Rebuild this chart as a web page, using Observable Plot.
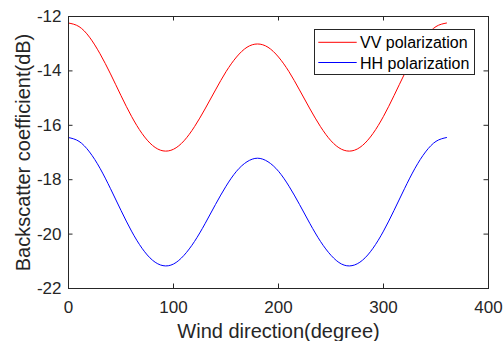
<!DOCTYPE html>
<html><head><meta charset="utf-8">
<script src="https://cdn.jsdelivr.net/npm/d3@7"></script>
<script src="https://cdn.jsdelivr.net/npm/@observablehq/plot@0.6"></script>
<style>
html,body{margin:0;padding:0;background:#fff;}
#wrap{position:relative;width:504px;height:341px;overflow:hidden;font-family:"Liberation Sans",Arial,sans-serif;}
#legend{position:absolute;left:314px;top:29px;}
</style>
</head><body>
<div id="wrap"></div>
<script>
// Data
const angles = [0,10,20,30,40,50,60,70,80,90,100,110,120,130,140,150,160,170,180,190,200,210,220,230,240,250,260,270,280,290,300,310,320,330,340,350,360];
const vv = [-12.24,-12.37,-12.76,-13.37,-14.11,-14.91,-15.67,-16.30,-16.74,-16.94,-16.88,-16.57,-16.05,-15.40,-14.70,-14.03,-13.49,-13.13,-13.01,-13.13,-13.49,-14.03,-14.70,-15.40,-16.05,-16.57,-16.88,-16.94,-16.74,-16.30,-15.67,-14.91,-14.11,-13.37,-12.76,-12.37,-12.24];
const hh = [-16.45,-16.59,-16.98,-17.58,-18.33,-19.13,-19.89,-20.52,-20.96,-21.16,-21.10,-20.78,-20.27,-19.62,-18.91,-18.24,-17.69,-17.34,-17.21,-17.34,-17.69,-18.24,-18.91,-19.62,-20.27,-20.78,-21.10,-21.16,-20.96,-20.52,-19.89,-19.13,-18.33,-17.58,-16.98,-16.59,-16.45];
const seriesNames = ["VV polarization","HH polarization"];
const seriesColors = ["#ff0000","#0000ff"];
const xTicks = [0,100,200,300,400];
const yTicks = [-22,-20,-18,-16,-14,-12];
const xLabel = "Wind direction(degree)";
const yLabel = "Backscatter coefficient(dB)";

const rows = [];
angles.forEach((a,i)=>{ rows.push({angle:a, value:vv[i], series:seriesNames[0]}); });
angles.forEach((a,i)=>{ rows.push({angle:a, value:hh[i], series:seriesNames[1]}); });

const W=504,H=341,mL=68,mR=16,mT=16,mB=53;
const fw=W-mL-mR, fh=H-mT-mB, tl=4.5;
const axisColor="#262626";
const font='"Liberation Sans",Arial,sans-serif';

const chart = Plot.plot({
  width:W, height:H, marginLeft:mL, marginRight:mR, marginTop:mT, marginBottom:mB,
  style:{fontFamily:font, fontSize:"17px", background:"#fff"},
  x:{domain:[0,400]},
  y:{domain:[-22,-12]},
  color:{domain:seriesNames, range:seriesColors},
  marks:[
    Plot.line(rows,{x:"angle", y:"value", stroke:"series", strokeWidth:1, curve:"natural"}),
    Plot.ruleX(xTicks.slice(1,-1),{x:d=>d, insetTop:fh-tl, stroke:axisColor}),
    Plot.ruleX(xTicks.slice(1,-1),{x:d=>d, insetBottom:fh-tl, stroke:axisColor}),
    Plot.ruleY(yTicks.slice(1,-1),{y:d=>d, insetRight:fw-tl, stroke:axisColor}),
    Plot.ruleY(yTicks.slice(1,-1),{y:d=>d, insetLeft:fw-tl, stroke:axisColor}),
    Plot.frame({stroke:axisColor, strokeWidth:1}),
    Plot.axisX(xTicks,{tickSize:0, tickPadding:12, fontSize:17, fill:axisColor, label:null, tickFormat:d=>String(d)}),
    Plot.axisY(yTicks,{tickSize:0, tickPadding:7, fontSize:17, fill:axisColor, label:null, tickFormat:d=>String(d)}),
    Plot.text([xLabel],{frameAnchor:"bottom", dy:42.6, fontSize:20, fill:axisColor, lineAnchor:"middle", textAnchor:"middle"}),
    Plot.text([yLabel],{frameAnchor:"left", dx:-45, rotate:-90, fontSize:20, fill:axisColor, lineAnchor:"middle", textAnchor:"middle"})
  ]
});
const wrap=document.getElementById("wrap");
wrap.appendChild(chart);

// Legend (HTML overlay, built from the series arrays)
const lg = d3.select(wrap).append("svg").attr("id","legend").attr("width",161).attr("height",46);
lg.append("rect").attr("x",0.5).attr("y",0.5).attr("width",160).attr("height",45).attr("fill","#fff").attr("stroke",axisColor);
const lineY=[13.3,33.5], baseY=[19.2,39.9];
seriesNames.forEach((n,i)=>{
  lg.append("line").attr("x1",4.3).attr("x2",42.7).attr("y1",lineY[i]).attr("y2",lineY[i]).attr("stroke",seriesColors[i]).attr("stroke-width",1);
  lg.append("text").attr("x",46).attr("y",baseY[i]).attr("font-family",font).attr("font-size",16).attr("fill","#000").text(n);
});
</script>
</body></html>
